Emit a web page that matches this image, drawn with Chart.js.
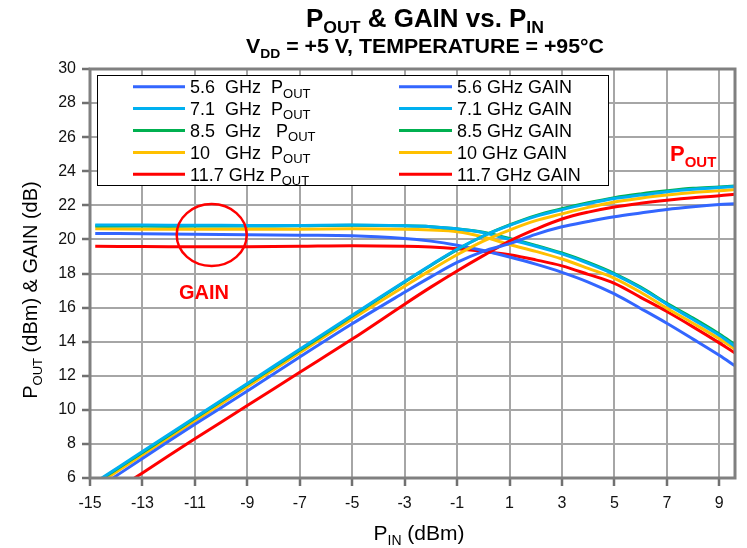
<!DOCTYPE html>
<html>
<head>
<meta charset="utf-8">
<title>POUT &amp; GAIN vs. PIN</title>
<script src="https://cdn.jsdelivr.net/npm/chart.js@4.4.0/dist/chart.umd.min.js"></script>
<style>
  html, body { margin: 0; padding: 0; background: #fff; }
</style>
</head>
<body>
<canvas id="chart" width="747" height="548"></canvas>
<script>
// Values (PIN in dBm)
const pin = [-14.8, -13, -11, -9, -7, -5, -3, -2, -1, 0, 1, 2, 3, 4, 5, 6, 7, 8, 9, 9.6];

// POUT (dBm)
const pout56  = [5.3, 7.15, 9.15, 11.1, 13.1, 15.05, 16.9, 17.8, 18.65, 19.3, 19.75, 20.3, 20.74, 21.05, 21.33, 21.55, 21.76, 21.92, 22.05, 22.1];
const pout71  = [5.75, 7.55, 9.55, 11.55, 13.55, 15.55, 17.53, 18.5, 19.42, 20.2, 20.82, 21.35, 21.75, 22.1, 22.4, 22.6, 22.8, 22.95, 23.04, 23.1];
const pout85  = [5.7, 7.5, 9.5, 11.5, 13.5, 15.5, 17.5, 18.47, 19.4, 20.2, 20.85, 21.4, 21.8, 22.15, 22.45, 22.67, 22.85, 23.0, 23.08, 23.14];
const pout10  = [5.55, 7.35, 9.35, 11.35, 13.35, 15.33, 17.25, 18.2, 19.1, 19.9, 20.55, 21.1, 21.5, 21.88, 22.2, 22.42, 22.6, 22.75, 22.85, 22.93];
const pout117 = [4.5, 6.3, 8.3, 10.25, 12.2, 14.15, 16.2, 17.2, 18.15, 19.05, 19.9, 20.6, 21.2, 21.6, 21.9, 22.12, 22.3, 22.45, 22.56, 22.65];

// GAIN (dB)
const gain56  = [20.35, 20.33, 20.3, 20.28, 20.25, 20.22, 20.06, 19.9, 19.66, 19.35, 18.97, 18.55, 18.07, 17.5, 16.8, 15.95, 15.08, 14.15, 13.2, 12.58];
const gain71  = [20.85, 20.84, 20.83, 20.82, 20.82, 20.84, 20.8, 20.75, 20.62, 20.4, 20.0, 19.6, 19.15, 18.6, 17.95, 17.15, 16.2, 15.3, 14.38, 13.72];
const gain85  = [20.78, 20.78, 20.78, 20.79, 20.8, 20.83, 20.8, 20.75, 20.62, 20.42, 20.05, 19.65, 19.2, 18.65, 18.0, 17.2, 16.25, 15.38, 14.45, 13.82];
const gain10  = [20.62, 20.6, 20.6, 20.6, 20.6, 20.62, 20.6, 20.55, 20.45, 20.15, 19.7, 19.3, 18.85, 18.3, 17.72, 16.9, 15.96, 15.08, 14.17, 13.56];
const gain117 = [19.6, 19.58, 19.57, 19.57, 19.6, 19.63, 19.6, 19.55, 19.45, 19.3, 19.1, 18.8, 18.45, 17.95, 17.42, 16.6, 15.77, 14.87, 13.93, 13.33];

// Legend labels and axis ticks
const poutLabels = ['5.6  GHz  P', '7.1  GHz  P', '8.5  GHz   P', '10   GHz  P', '11.7 GHz P'];
const gainLabels = ['5.6 GHz GAIN', '7.1 GHz GAIN', '8.5 GHz GAIN', '10 GHz GAIN', '11.7 GHz GAIN'];
const colors = ['#3366FF', '#00B0F0', '#00B050', '#FFC000', '#FF0000'];
const xTicks = [-15, -13, -11, -9, -7, -5, -3, -1, 1, 3, 5, 7, 9];
const yTicks = [6, 8, 10, 12, 14, 16, 18, 20, 22, 24, 26, 28, 30];

const FONT = '"Liberation Sans", Arial, sans-serif';

function toPoints(ys) {
    return pin.map((x, i) => ({ x: x, y: ys[i] }));
}

const poutSeries = [pout56, pout71, pout85, pout10, pout117];
const gainSeries = [gain56, gain71, gain85, gain10, gain117];

const datasets = [];
poutSeries.forEach((s, i) => {
    datasets.push({ label: poutLabels[i] + 'OUT', data: toPoints(s), borderColor: colors[i] });
});
gainSeries.forEach((s, i) => {
    datasets.push({ label: gainLabels[i], data: toPoints(s), borderColor: colors[i] });
});
datasets.forEach(d => {
    d.borderWidth = 3;
    d.pointRadius = 0;
    d.tension = 0.35;
    d.fill = false;
});

// Draw text made of normal and subscript pieces
function drawRich(ctx, parts, x, y, size, opts) {
    opts = opts || {};
    const weight = opts.bold ? 'bold ' : '';
    const subSize = Math.round(size * (opts.subRatio || 0.66));
    const subDrop = size * 0.25;
    let w = 0;
    parts.forEach(p => {
        ctx.font = weight + (p[1] ? subSize : size) + 'px ' + FONT;
        w += ctx.measureText(p[0]).width;
    });
    const sx = opts.fitWidth ? opts.fitWidth / w : 1;
    ctx.save();
    ctx.translate(x, y);
    if (opts.rotate) ctx.rotate(opts.rotate);
    ctx.scale(sx, 1);
    ctx.fillStyle = opts.color || '#000';
    ctx.textAlign = 'left';
    ctx.textBaseline = 'alphabetic';
    let cx = opts.align === 'center' ? -w / 2 : 0;
    parts.forEach(p => {
        ctx.font = weight + (p[1] ? subSize : size) + 'px ' + FONT;
        ctx.fillText(p[0], cx, p[1] ? subDrop : 0);
        cx += ctx.measureText(p[0]).width;
    });
    ctx.restore();
}

// Grid lines and tick marks, placed by the chart's own scales
function drawGrid(chart) {
    const ctx = chart.ctx;
    const area = chart.chartArea;
    const xs = chart.scales.x;
    const ys = chart.scales.y;
    ctx.save();
    ctx.lineWidth = 2;
    ctx.strokeStyle = '#A6A6A6';
    ctx.beginPath();
    xTicks.forEach(v => {
        const px = Math.round(xs.getPixelForValue(v));
        ctx.moveTo(px, area.top);
        ctx.lineTo(px, area.bottom);
    });
    yTicks.forEach(v => {
        const py = Math.round(ys.getPixelForValue(v));
        ctx.moveTo(area.left, py);
        ctx.lineTo(area.right, py);
    });
    ctx.stroke();

    ctx.strokeStyle = '#707070';
    ctx.lineWidth = 2.5;
    ctx.beginPath();
    xTicks.forEach(v => {
        const px = Math.round(xs.getPixelForValue(v));
        ctx.moveTo(px, area.bottom);
        ctx.lineTo(px, area.bottom + 8);
    });
    yTicks.forEach(v => {
        const py = Math.round(ys.getPixelForValue(v));
        ctx.moveTo(area.left - 8, py);
        ctx.lineTo(area.left, py);
    });
    ctx.stroke();
    ctx.restore();
}

const decorations = {
    id: 'decorations',
    beforeDatasetsDraw(chart) {
        drawGrid(chart);
    },
    afterDatasetsDraw(chart) {
        const ctx = chart.ctx;
        const area = chart.chartArea;

        // plot frame
        ctx.save();
        ctx.strokeStyle = '#808080';
        ctx.lineWidth = 3;
        ctx.strokeRect(area.left, area.top, area.right - area.left, area.bottom - area.top);
        ctx.restore();

        // legend box
        ctx.save();
        ctx.fillStyle = '#fff';
        ctx.fillRect(97, 75, 512, 111);
        ctx.strokeStyle = '#000';
        ctx.lineWidth = 1;
        ctx.strokeRect(97.5, 75.5, 511, 110);
        for (let i = 0; i < 5; i++) {
            const cy = 86.7 + i * 21.9;
            ctx.strokeStyle = colors[i];
            ctx.lineWidth = 3;
            ctx.beginPath();
            ctx.moveTo(133, cy);
            ctx.lineTo(185, cy);
            ctx.moveTo(399, cy);
            ctx.lineTo(452, cy);
            ctx.stroke();
            drawRich(ctx, [[poutLabels[i], 0], ['OUT', 1]], 190, cy + 6.3, 18, { subRatio: 0.7 });
            drawRich(ctx, [[gainLabels[i], 0]], 457, cy + 6.3, 18);
        }
        ctx.restore();

        // annotations
        ctx.save();
        ctx.strokeStyle = '#FF0000';
        ctx.lineWidth = 2.5;
        ctx.beginPath();
        ctx.ellipse(211.7, 235, 35, 31, 0, 0, Math.PI * 2);
        ctx.stroke();
        ctx.restore();
        drawRich(ctx, [['GAIN', 0]], 204, 299, 20, { bold: true, align: 'center', color: '#FF0000' });
        drawRich(ctx, [['P', 0], ['OUT', 1]], 670, 161, 22, { bold: true, color: '#FF0000' });
    },
    afterDraw(chart) {
        const ctx = chart.ctx;
        // titles
        drawRich(ctx, [['P', 0], ['OUT', 1], [' & GAIN vs. P', 0], ['IN', 1]], 425, 27, 25,
            { bold: true, align: 'center', fitWidth: 238 });
        drawRich(ctx, [['V', 0], ['DD', 1], [' = +5 V, TEMPERATURE = +95°C', 0]], 425, 53, 20,
            { bold: true, align: 'center', fitWidth: 358 });
        // axis titles
        drawRich(ctx, [['P', 0], ['OUT', 1], [' (dBm) & GAIN (dB)', 0]], 37, 290, 20,
            { align: 'center', rotate: -Math.PI / 2 });
        drawRich(ctx, [['P', 0], ['IN', 1], [' (dBm)', 0]], 419, 540, 21, { align: 'center' });
    }
};

new Chart(document.getElementById('chart'), {
    type: 'line',
    data: { datasets: datasets },
    options: {
        responsive: false,
        animation: false,
        layout: { padding: { top: 69, right: 12, left: 0, bottom: 0 } },
        plugins: {
            legend: { display: false },
            title: { display: false },
            tooltip: { enabled: false }
        },
        scales: {
            x: {
                type: 'linear',
                min: -15,
                max: 9.6,
                afterBuildTicks: scale => {
                    scale.ticks = xTicks.map(v => ({ value: v }));
                },
                afterFit: scale => { scale.height = 70; },
                ticks: {
                    autoSkip: false,
                    maxRotation: 0,
                    padding: 8,
                    color: '#111',
                    font: { family: FONT, size: 16 }
                },
                grid: { display: false },
                border: { display: false }
            },
            y: {
                min: 6,
                max: 30,
                afterBuildTicks: scale => {
                    scale.ticks = yTicks.map(v => ({ value: v }));
                },
                afterFit: scale => { scale.width = 90; },
                ticks: {
                    padding: 6,
                    color: '#111',
                    font: { family: FONT, size: 16 }
                },
                grid: { display: false },
                border: { display: false }
            }
        }
    },
    plugins: [decorations]
});
</script>
</body>
</html>
